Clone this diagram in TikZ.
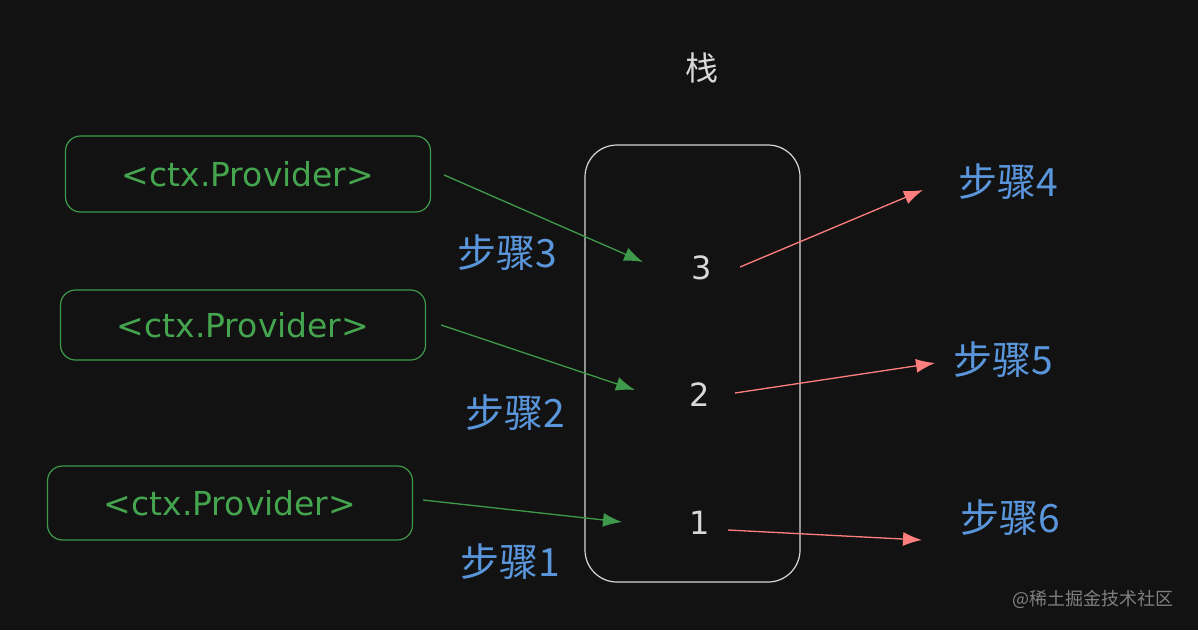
\documentclass[tikz,border=0pt]{standalone}
\usepackage{fontspec}
\setmainfont{DejaVu Sans}
\newfontfamily\cjk{Noto Sans CJK SC}
\usetikzlibrary{arrows.meta, calc}

\definecolor{bg}{HTML}{121212}
\definecolor{gline}{HTML}{3E9A4A}
\definecolor{gtext}{HTML}{45A54F}
\definecolor{stepblue}{HTML}{5A96DC}
\definecolor{redline}{HTML}{FF7E7E}
\definecolor{stackgray}{HTML}{D8D8D8}

\tikzset{
    provider/.style={draw=gline, line width=1.2pt, rounded corners=15pt, text=gtext,
        minimum width=365pt, minimum height=76pt, font=\fontsize{33}{36}\selectfont},
    steplabel/.style={text=stepblue, font=\cjk\fontsize{39}{42}\selectfont},
    num/.style={text=stackgray, font=\fontsize{32}{36}\selectfont},
    garrow/.style={-{Latex[length=19pt,width=14pt]}, draw=gline, fill=gline, line width=1.3pt},
    rarrow/.style={-{Latex[length=19pt,width=14pt]}, draw=redline, fill=redline, line width=1.3pt}
}

\begin{document}
\begin{tikzpicture}[x=1pt, y=-1pt]
        \fill[bg] (0,0) rectangle (1198,630);
        \useasboundingbox (0,0) rectangle (1198,630);

        % the stack
        \node[text=stackgray, font=\cjk\fontsize{33}{36}\selectfont] (title) at (702,68) {栈};
        \draw[stackgray, line width=1.2pt, rounded corners=32pt] (585,145) rectangle (800,582);
        \node[num] (n3) at (702,268) {3};
        \node[num] (n2) at (700,395) {2};
        \node[num] (n1) at (700,523) {1};

        % providers
        \node[provider] (p1) at (248,174) {<ctx.Provider>};
        \node[provider, minimum height=70pt] (p2) at (243,325) {<ctx.Provider>};
        \node[provider, minimum height=74pt] (p3) at (230,503) {<ctx.Provider>};

        % step labels
        \node[steplabel] (s3) at (507,253) {步骤3};
        \node[steplabel] (s2) at (515,413) {步骤2};
        \node[steplabel] (s1) at (510,562) {步骤1};
        \node[steplabel] (s4) at (1008,182) {步骤4};
        \node[steplabel] (s5) at (1003,360) {步骤5};
        \node[steplabel] (s6) at (1010,518) {步骤6};

        \coordinate (g3) at (643,262);
        \coordinate (g2) at (635,390);
        \coordinate (g1) at (622,522);
        \coordinate (r4) at (923,190);
        \coordinate (r5) at (935,363);
        \coordinate (r6) at (922,540);

        \draw[garrow] ($(p1.east)+(13,1)$) -- (g3);
        \draw[garrow] ($(p2.east)+(15,0)$) -- (g2);
        \draw[garrow] ($(p3.east)+(10,-3)$) -- (g1);

        \draw[rarrow] ($(n3)+(38,-1)$) -- (r4);
        \draw[rarrow] ($(n2)+(35,-2)$) -- (r5);
        \draw[rarrow] ($(n1)+(28,7)$) -- (r6);

        \node[text=gray, font=\cjk\fontsize{18}{20}\selectfont, anchor=east] (mark) at (1177,599) {@稀土掘金技术社区};
    \end{tikzpicture}
\end{document}
